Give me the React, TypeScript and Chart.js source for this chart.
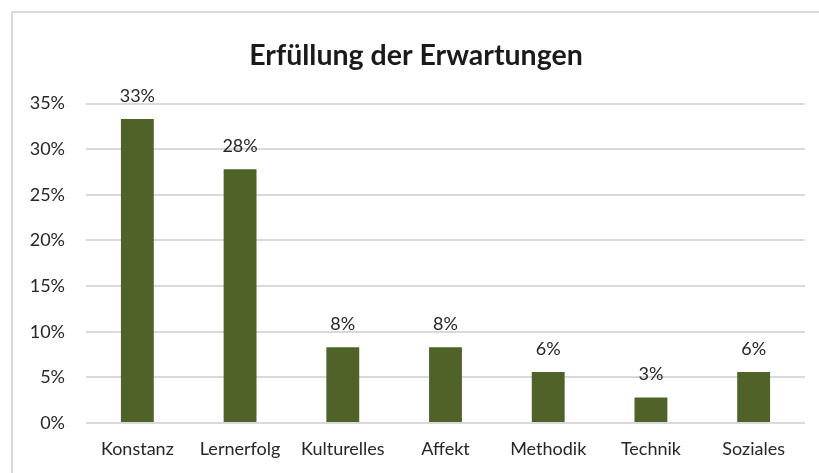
import React, { useEffect, useRef } from "react";
import { Chart, registerables } from "chart.js";

Chart.register(...registerables);

const categories = ["Konstanz", "Lernerfolg", "Kulturelles", "Affekt", "Methodik", "Technik", "Soziales"];
const values = [33.3, 27.8, 8.3, 8.3, 5.6, 2.8, 5.6];
const titleText = "Erfüllung der Erwartungen";
const yMin = 0;
const yMax = 35;
const yStep = 5;

const FONT = "Lato, 'Open Sans', sans-serif";
const BAR_COLOR = "#4F6228";
const GRID_COLOR = "#d9d9d9";
const TEXT_COLOR = "#262626";

const framePlugin = {
  id: "frame",
  beforeDraw(chart: any) {
    const ctx = chart.ctx;
    ctx.save();
    ctx.fillStyle = "#ffffff";
    ctx.fillRect(0, 0, chart.width, chart.height);
    ctx.strokeStyle = "#d9d9d9";
    ctx.lineWidth = 2;
    ctx.beginPath();
    ctx.moveTo(12, chart.height);
    ctx.lineTo(12, 12);
    ctx.lineTo(chart.width, 12);
    ctx.stroke();
    ctx.restore();
  },
};

const dataLabelPlugin = {
  id: "dataLabels",
  afterDatasetsDraw(chart: any) {
    const ctx = chart.ctx;
    const meta = chart.getDatasetMeta(0);
    ctx.save();
    ctx.font = `18px ${FONT}`;
    ctx.fillStyle = TEXT_COLOR;
    ctx.textAlign = "center";
    ctx.textBaseline = "alphabetic";
    meta.data.forEach((bar: any, i: number) => {
      const v = chart.data.datasets[0].data[i];
      ctx.fillText(`${Math.round(v)}%`, bar.x, bar.y - 17);
    });
    ctx.restore();
  },
};

const titlePlugin = {
  id: "customTitle",
  afterDraw(chart: any) {
    const ctx = chart.ctx;
    ctx.save();
    ctx.font = `bold 28.5px ${FONT}`;
    ctx.fillStyle = "#1a1a1a";
    ctx.textAlign = "center";
    ctx.textBaseline = "alphabetic";
    ctx.fillText(titleText, 416, 65);
    ctx.restore();
  },
};

export default function App() {
  const canvasRef = useRef<HTMLCanvasElement | null>(null);

  useEffect(() => {
    const canvas = canvasRef.current;
    if (!canvas) return;
    const chart = new Chart(canvas, {
      type: "bar",
      data: {
        labels: categories,
        datasets: [
          {
            data: values,
            backgroundColor: BAR_COLOR,
            borderWidth: 0,
            barPercentage: 0.32,
            categoryPercentage: 1,
          },
        ],
      },
      options: {
        animation: false,
        responsive: false,
        maintainAspectRatio: false,
        layout: { padding: { left: 0, right: 14, top: 103.5, bottom: 0 } },
        plugins: {
          legend: { display: false },
          tooltip: { enabled: false },
          title: { display: false },
        },
        scales: {
          x: {
            grid: { display: false, drawTicks: false },
            border: { display: false },
            ticks: {
              color: TEXT_COLOR,
              font: { family: FONT, size: 18 },
              padding: 15,
              maxRotation: 0,
              autoSkip: false,
            },
            afterFit(scale: any) {
              scale.height = 50;
            },
          },
          y: {
            min: yMin,
            max: yMax,
            grid: { color: GRID_COLOR, lineWidth: 2, drawTicks: false },
            border: { display: false },
            ticks: {
              stepSize: yStep,
              color: TEXT_COLOR,
              font: { family: FONT, size: 18 },
              padding: 21,
              callback: (v: any) => `${Math.round(Number(v))}%`,
            },
            afterFit(scale: any) {
              scale.width = 86;
            },
          },
        },
      },
      plugins: [framePlugin, dataLabelPlugin, titlePlugin],
    });
    return () => chart.destroy();
  }, []);

  return (
    <div style={{ position: "fixed", left: 0, top: 0, width: 819, height: 473, overflow: "hidden", background: "#fff" }}>
      <canvas ref={canvasRef} width={819} height={473} style={{ display: "block", width: 819, height: 473 }} />
    </div>
  );
}
